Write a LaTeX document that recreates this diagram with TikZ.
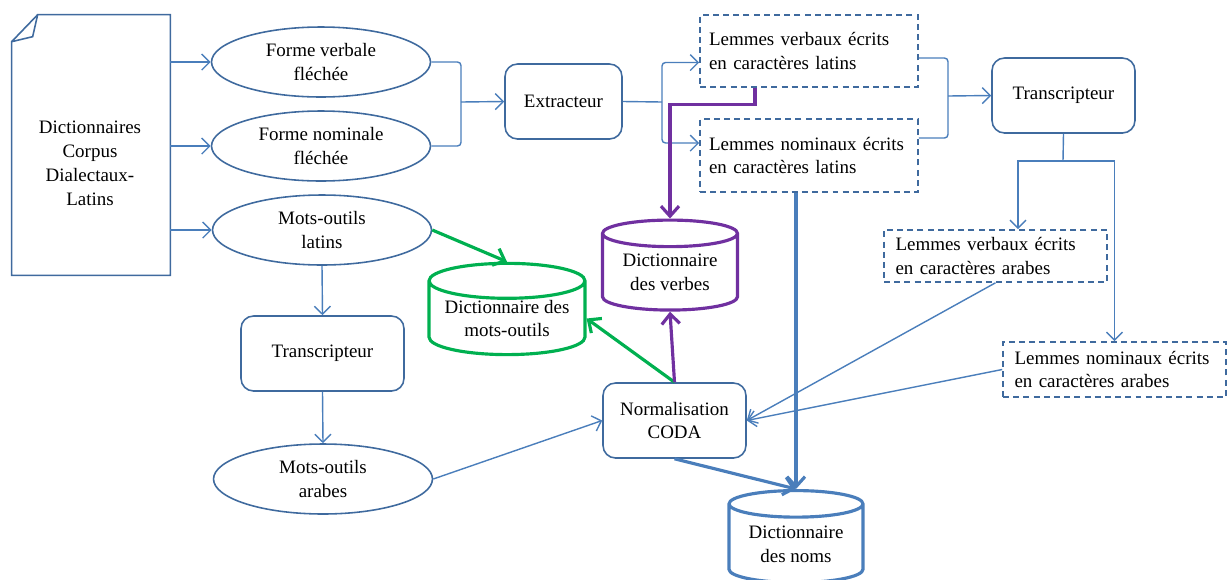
\documentclass[tikz,border=0pt]{standalone}
\usepackage{fontspec}
\setmainfont{Liberation Serif}
\usetikzlibrary{shapes.geometric,arrows.meta}
\definecolor{boxblue}{HTML}{3F6A9E}
\definecolor{linkblue}{HTML}{4A7EBB}
\definecolor{dictgreen}{HTML}{00B050}
\definecolor{dictpurple}{HTML}{7030A0}
\tikzset{
  every node/.style={font=\rmfamily\fontsize{10.8}{13.6}\selectfont, inner sep=0pt},
  form/.style={draw=boxblue, line width=0.9pt, ellipse, minimum width=4.38cm, minimum height=1.4cm, align=center},
  tool/.style={draw=boxblue, line width=0.9pt, rounded corners=0.25cm, minimum height=1.5cm, align=center},
  lemma/.style={draw=boxblue, line width=0.9pt, dash pattern=on 3.4pt off 2.4pt, text width=4cm, align=left},
  dict/.style={cylinder, shape border rotate=90, shape aspect=0.28, line width=1.8pt, align=center},
  link/.style={draw=linkblue, line width=0.8pt, -{Straight Barb[length=1.6mm, width=3.2mm]}},
  joint/.style={draw=linkblue, line width=0.8pt, rounded corners=2pt},
  heavy/.style={line width=1.8pt, -{Straight Barb[length=2mm, width=3.6mm, line width=1.8pt]}}
}
\begin{document}
\begin{tikzpicture}[x=0.02cm, y=-0.02cm]
    \useasboundingbox (0,0) rectangle (1228,579);
    \node (doc) [minimum width=3.16cm, minimum height=5.2cm] at (91,145) {};
    \draw [draw=boxblue, line width=0.9pt] ([xshift=0.52cm]doc.north west) -- (doc.north east) -- (doc.south east) -- (doc.south west) -- ([yshift=-0.54cm]doc.north west) -- cycle;
    \draw [draw=boxblue, line width=0.9pt] ([yshift=-0.54cm]doc.north west) -- ([xshift=0.42cm, yshift=-0.44cm]doc.north west) -- ([xshift=0.52cm]doc.north west);
    \node (doctxt) [align=center] at (90,163) {Dictionnaires\\Corpus\\Dialectaux-\\Latins};

    \node (fvf) [form] at (321,62) {Forme verbale\\fléchée};
    \node (fnf) [form] at (321,146) {Forme nominale\\fléchée};
    \node (mol) [form] at (322,230) {Mots-outils\\latins};
    \node (tr2) [tool, minimum width=3.26cm] at (322.5,353.5) {Transcripteur};
    \node (moa) [form] at (323,479) {Mots-outils\\arabes};

    \node (ext) [tool, minimum width=2.34cm] at (563.5,101.5) {Extracteur};
    \node (lvl) [lemma, inner xsep=0.18cm, minimum height=1.44cm] at (809,51) {Lemmes verbaux écrits\\en caractères latins};
    \node (lnl) [lemma, inner xsep=0.18cm, minimum height=1.46cm] at (809,155.5) {Lemmes nominaux écrits\\en caractères latins};
    \node (tr1) [tool, minimum width=2.86cm] at (1063.5,95.5) {Transcripteur};
    \node (lva) [lemma, inner xsep=0.23cm, minimum height=1.04cm] at (995.5,256) {Lemmes verbaux écrits\\en caractères arabes};
    \node (lna) [lemma, inner xsep=0.23cm, minimum height=1.1cm] at (1114.5,369.5) {Lemmes nominaux écrits\\en caractères arabes};
    \node (norm) [tool, minimum width=2.86cm] at (674.5,420.5) {Normalisation\\CODA};

    \node (dmo) [dict, draw=dictgreen, minimum width=3.12cm, minimum height=1.7cm] at (507,318.5) {Dictionnaire des\\mots-outils};
    \node (dve) [dict, draw=dictpurple, minimum width=2.7cm, minimum height=1.8cm] at (670,272.5) {Dictionnaire\\des verbes};
    \node (dno) [dict, draw=linkblue, minimum width=2.68cm, minimum height=1.84cm] at (796,544) {Dictionnaire\\des noms};

    \coordinate (j1) at (461,102);
    \coordinate (j2) at (662,102);
    \coordinate (j3) at (948,96);
    \coordinate (j4) at (1063,161);

    \draw [link] (doc.east |- fvf) -- (fvf.west);
    \draw [link] (doc.east |- fnf) -- (fnf.west);
    \draw [link] (doc.east |- mol) -- (mol.west);
    \draw [joint] (fvf.east) -| (j1) |- (fnf.east);
    \draw [link] (j1) -- (ext.west);
    \draw [joint] (ext.east) -- (j2);
    \draw [link, rounded corners=2pt] (j2) |- ([yshift=-0.23cm]lvl.west);
    \draw [link, rounded corners=2pt] (j2) |- ([yshift=0.25cm]lnl.west);
    \draw [joint] ([yshift=-0.14cm]lvl.east) -| (j3) |- ([yshift=0.35cm]lnl.east);
    \draw [link] (j3) -- (tr1.west);
    \draw [joint] (tr1.south) -- (j4);
    \draw [link] (j4) -| ([xshift=0.45cm]lva.north);
    \draw [link] (j4) -| (lna.north);
    \draw [link] (lva.south) -- (norm.east);
    \draw [link] (lna.west) -- (norm.east);
    \draw [link] (mol.south) -- (tr2.north);
    \draw [link] (tr2.south) -- (moa.north);
    \draw [link] (moa.east) -- (norm.west);

    \draw [heavy, dictgreen] (mol.east) -- (dmo.north);
    \draw [heavy, dictgreen] (norm.north) -- (dmo.east);
    \draw [heavy, dictpurple] ([xshift=-1.08cm]lvl.south) -- ++(0,17) -| (dve.north);
    \draw [heavy, dictpurple] (norm.north) -- (dve.south);
    \draw [heavy, linkblue] (dno.north |- lnl.south) -- (dno.north);
    \draw [heavy, linkblue] (norm.south) -- (dno.north);
\end{tikzpicture}
\end{document}
